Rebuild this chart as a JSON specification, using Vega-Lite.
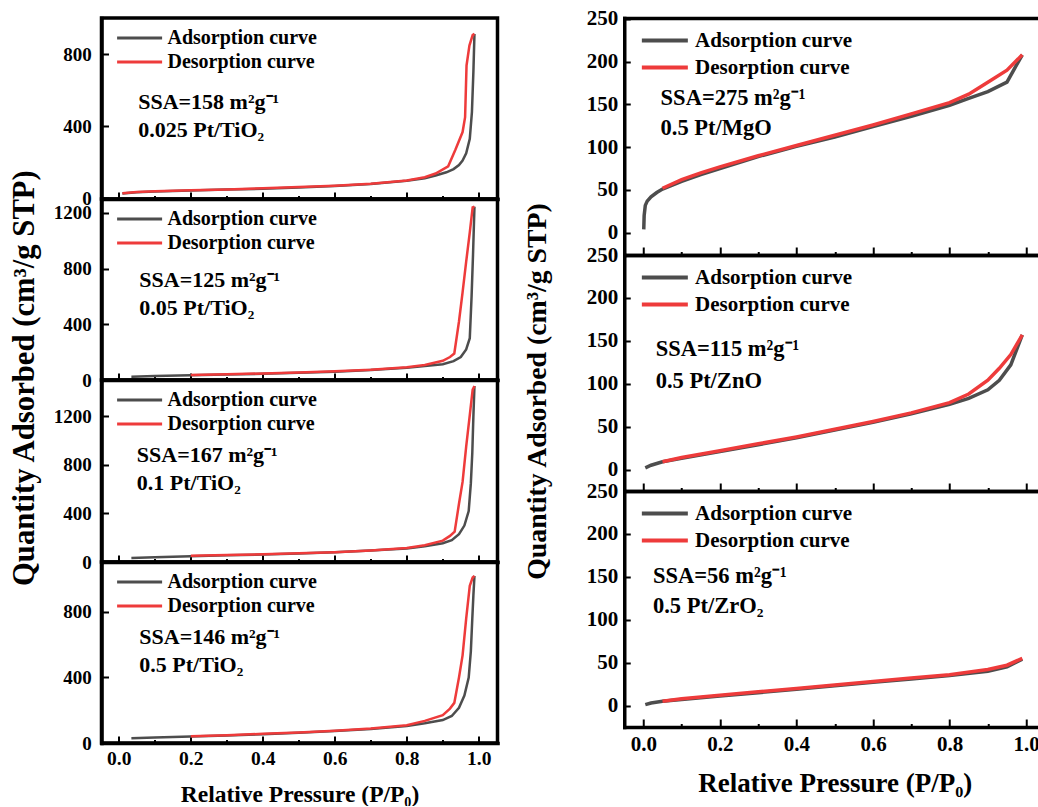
{
  "$schema": "https://vega.github.io/schema/vega-lite/v6.json",
  "background": "white",
  "padding": {"left": 6.5, "top": 5, "right": -8, "bottom": -2},
  "config": {
    "font": "Liberation Serif",
    "view": {"stroke": null},
    "axis": {
      "labelFont": "Liberation Serif", "titleFont": "Liberation Serif",
      "labelFontWeight": "bold", "titleFontWeight": "bold",
      "labelColor": "black", "titleColor": "black",
      "domainColor": "black", "tickColor": "black",
      "domainWidth": 3.5, "domainCap": "square", "tickWidth": 2,
      "grid": false, "labelFlush": false, "labelOverlap": false
    },
    "legend": {
      "labelFont": "Liberation Serif", "labelFontWeight": "bold", "labelColor": "black",
      "labelLimit": 400, "padding": 0, "symbolType": "stroke"
    }
  },
  "datasets": {
    "iso": [
      {"sample":"0.025 Pt/TiO2","curve":"Adsorption curve","p":0.01,"q":28},
      {"sample":"0.025 Pt/TiO2","curve":"Adsorption curve","p":0.05,"q":35},
      {"sample":"0.025 Pt/TiO2","curve":"Adsorption curve","p":0.1,"q":39},
      {"sample":"0.025 Pt/TiO2","curve":"Adsorption curve","p":0.2,"q":44},
      {"sample":"0.025 Pt/TiO2","curve":"Adsorption curve","p":0.3,"q":49},
      {"sample":"0.025 Pt/TiO2","curve":"Adsorption curve","p":0.4,"q":54},
      {"sample":"0.025 Pt/TiO2","curve":"Adsorption curve","p":0.5,"q":61},
      {"sample":"0.025 Pt/TiO2","curve":"Adsorption curve","p":0.6,"q":69},
      {"sample":"0.025 Pt/TiO2","curve":"Adsorption curve","p":0.7,"q":80},
      {"sample":"0.025 Pt/TiO2","curve":"Adsorption curve","p":0.8,"q":98},
      {"sample":"0.025 Pt/TiO2","curve":"Adsorption curve","p":0.85,"q":112},
      {"sample":"0.025 Pt/TiO2","curve":"Adsorption curve","p":0.88,"q":127},
      {"sample":"0.025 Pt/TiO2","curve":"Adsorption curve","p":0.91,"q":145},
      {"sample":"0.025 Pt/TiO2","curve":"Adsorption curve","p":0.93,"q":163},
      {"sample":"0.025 Pt/TiO2","curve":"Adsorption curve","p":0.945,"q":185},
      {"sample":"0.025 Pt/TiO2","curve":"Adsorption curve","p":0.955,"q":210},
      {"sample":"0.025 Pt/TiO2","curve":"Adsorption curve","p":0.965,"q":250},
      {"sample":"0.025 Pt/TiO2","curve":"Adsorption curve","p":0.975,"q":330},
      {"sample":"0.025 Pt/TiO2","curve":"Adsorption curve","p":0.981,"q":480},
      {"sample":"0.025 Pt/TiO2","curve":"Adsorption curve","p":0.985,"q":700},
      {"sample":"0.025 Pt/TiO2","curve":"Adsorption curve","p":0.988,"q":912},
      {"sample":"0.05 Pt/TiO2","curve":"Adsorption curve","p":0.035,"q":24},
      {"sample":"0.05 Pt/TiO2","curve":"Adsorption curve","p":0.1,"q":28},
      {"sample":"0.05 Pt/TiO2","curve":"Adsorption curve","p":0.2,"q":34},
      {"sample":"0.05 Pt/TiO2","curve":"Adsorption curve","p":0.3,"q":39},
      {"sample":"0.05 Pt/TiO2","curve":"Adsorption curve","p":0.4,"q":45},
      {"sample":"0.05 Pt/TiO2","curve":"Adsorption curve","p":0.5,"q":52},
      {"sample":"0.05 Pt/TiO2","curve":"Adsorption curve","p":0.6,"q":60},
      {"sample":"0.05 Pt/TiO2","curve":"Adsorption curve","p":0.7,"q":72},
      {"sample":"0.05 Pt/TiO2","curve":"Adsorption curve","p":0.8,"q":88},
      {"sample":"0.05 Pt/TiO2","curve":"Adsorption curve","p":0.85,"q":100},
      {"sample":"0.05 Pt/TiO2","curve":"Adsorption curve","p":0.9,"q":113},
      {"sample":"0.05 Pt/TiO2","curve":"Adsorption curve","p":0.93,"q":135},
      {"sample":"0.05 Pt/TiO2","curve":"Adsorption curve","p":0.95,"q":165},
      {"sample":"0.05 Pt/TiO2","curve":"Adsorption curve","p":0.965,"q":220},
      {"sample":"0.05 Pt/TiO2","curve":"Adsorption curve","p":0.975,"q":300},
      {"sample":"0.05 Pt/TiO2","curve":"Adsorption curve","p":0.98,"q":600},
      {"sample":"0.05 Pt/TiO2","curve":"Adsorption curve","p":0.984,"q":900},
      {"sample":"0.05 Pt/TiO2","curve":"Adsorption curve","p":0.988,"q":1245},
      {"sample":"0.1 Pt/TiO2","curve":"Adsorption curve","p":0.035,"q":33},
      {"sample":"0.1 Pt/TiO2","curve":"Adsorption curve","p":0.1,"q":40},
      {"sample":"0.1 Pt/TiO2","curve":"Adsorption curve","p":0.2,"q":48},
      {"sample":"0.1 Pt/TiO2","curve":"Adsorption curve","p":0.3,"q":55},
      {"sample":"0.1 Pt/TiO2","curve":"Adsorption curve","p":0.4,"q":62},
      {"sample":"0.1 Pt/TiO2","curve":"Adsorption curve","p":0.5,"q":70},
      {"sample":"0.1 Pt/TiO2","curve":"Adsorption curve","p":0.6,"q":80},
      {"sample":"0.1 Pt/TiO2","curve":"Adsorption curve","p":0.7,"q":94},
      {"sample":"0.1 Pt/TiO2","curve":"Adsorption curve","p":0.8,"q":112},
      {"sample":"0.1 Pt/TiO2","curve":"Adsorption curve","p":0.85,"q":130},
      {"sample":"0.1 Pt/TiO2","curve":"Adsorption curve","p":0.9,"q":155},
      {"sample":"0.1 Pt/TiO2","curve":"Adsorption curve","p":0.925,"q":180},
      {"sample":"0.1 Pt/TiO2","curve":"Adsorption curve","p":0.945,"q":230},
      {"sample":"0.1 Pt/TiO2","curve":"Adsorption curve","p":0.96,"q":300},
      {"sample":"0.1 Pt/TiO2","curve":"Adsorption curve","p":0.972,"q":420},
      {"sample":"0.1 Pt/TiO2","curve":"Adsorption curve","p":0.978,"q":650},
      {"sample":"0.1 Pt/TiO2","curve":"Adsorption curve","p":0.982,"q":900},
      {"sample":"0.1 Pt/TiO2","curve":"Adsorption curve","p":0.985,"q":1200},
      {"sample":"0.1 Pt/TiO2","curve":"Adsorption curve","p":0.988,"q":1450},
      {"sample":"0.5 Pt/TiO2","curve":"Adsorption curve","p":0.035,"q":29},
      {"sample":"0.5 Pt/TiO2","curve":"Adsorption curve","p":0.1,"q":33},
      {"sample":"0.5 Pt/TiO2","curve":"Adsorption curve","p":0.2,"q":40},
      {"sample":"0.5 Pt/TiO2","curve":"Adsorption curve","p":0.3,"q":46},
      {"sample":"0.5 Pt/TiO2","curve":"Adsorption curve","p":0.4,"q":53},
      {"sample":"0.5 Pt/TiO2","curve":"Adsorption curve","p":0.5,"q":62},
      {"sample":"0.5 Pt/TiO2","curve":"Adsorption curve","p":0.6,"q":73},
      {"sample":"0.5 Pt/TiO2","curve":"Adsorption curve","p":0.7,"q":86},
      {"sample":"0.5 Pt/TiO2","curve":"Adsorption curve","p":0.8,"q":104},
      {"sample":"0.5 Pt/TiO2","curve":"Adsorption curve","p":0.85,"q":120},
      {"sample":"0.5 Pt/TiO2","curve":"Adsorption curve","p":0.9,"q":140},
      {"sample":"0.5 Pt/TiO2","curve":"Adsorption curve","p":0.925,"q":165},
      {"sample":"0.5 Pt/TiO2","curve":"Adsorption curve","p":0.945,"q":215},
      {"sample":"0.5 Pt/TiO2","curve":"Adsorption curve","p":0.96,"q":290},
      {"sample":"0.5 Pt/TiO2","curve":"Adsorption curve","p":0.972,"q":400},
      {"sample":"0.5 Pt/TiO2","curve":"Adsorption curve","p":0.978,"q":560},
      {"sample":"0.5 Pt/TiO2","curve":"Adsorption curve","p":0.982,"q":760},
      {"sample":"0.5 Pt/TiO2","curve":"Adsorption curve","p":0.985,"q":900},
      {"sample":"0.5 Pt/TiO2","curve":"Adsorption curve","p":0.988,"q":1020},
      {"sample":"0.5 Pt/MgO","curve":"Adsorption curve","p":0.001,"q":4},
      {"sample":"0.5 Pt/MgO","curve":"Adsorption curve","p":0.002,"q":20},
      {"sample":"0.5 Pt/MgO","curve":"Adsorption curve","p":0.005,"q":32},
      {"sample":"0.5 Pt/MgO","curve":"Adsorption curve","p":0.01,"q":37},
      {"sample":"0.5 Pt/MgO","curve":"Adsorption curve","p":0.02,"q":42},
      {"sample":"0.5 Pt/MgO","curve":"Adsorption curve","p":0.035,"q":47},
      {"sample":"0.5 Pt/MgO","curve":"Adsorption curve","p":0.05,"q":51},
      {"sample":"0.5 Pt/MgO","curve":"Adsorption curve","p":0.1,"q":60},
      {"sample":"0.5 Pt/MgO","curve":"Adsorption curve","p":0.15,"q":68},
      {"sample":"0.5 Pt/MgO","curve":"Adsorption curve","p":0.2,"q":75},
      {"sample":"0.5 Pt/MgO","curve":"Adsorption curve","p":0.3,"q":89},
      {"sample":"0.5 Pt/MgO","curve":"Adsorption curve","p":0.4,"q":101},
      {"sample":"0.5 Pt/MgO","curve":"Adsorption curve","p":0.5,"q":112},
      {"sample":"0.5 Pt/MgO","curve":"Adsorption curve","p":0.6,"q":124},
      {"sample":"0.5 Pt/MgO","curve":"Adsorption curve","p":0.7,"q":136},
      {"sample":"0.5 Pt/MgO","curve":"Adsorption curve","p":0.8,"q":149},
      {"sample":"0.5 Pt/MgO","curve":"Adsorption curve","p":0.85,"q":157},
      {"sample":"0.5 Pt/MgO","curve":"Adsorption curve","p":0.9,"q":165},
      {"sample":"0.5 Pt/MgO","curve":"Adsorption curve","p":0.95,"q":176},
      {"sample":"0.5 Pt/MgO","curve":"Adsorption curve","p":0.99,"q":208},
      {"sample":"0.5 Pt/ZnO","curve":"Adsorption curve","p":0.005,"q":2},
      {"sample":"0.5 Pt/ZnO","curve":"Adsorption curve","p":0.02,"q":5},
      {"sample":"0.5 Pt/ZnO","curve":"Adsorption curve","p":0.05,"q":9},
      {"sample":"0.5 Pt/ZnO","curve":"Adsorption curve","p":0.1,"q":13},
      {"sample":"0.5 Pt/ZnO","curve":"Adsorption curve","p":0.2,"q":21},
      {"sample":"0.5 Pt/ZnO","curve":"Adsorption curve","p":0.3,"q":29},
      {"sample":"0.5 Pt/ZnO","curve":"Adsorption curve","p":0.4,"q":37},
      {"sample":"0.5 Pt/ZnO","curve":"Adsorption curve","p":0.5,"q":46},
      {"sample":"0.5 Pt/ZnO","curve":"Adsorption curve","p":0.6,"q":55},
      {"sample":"0.5 Pt/ZnO","curve":"Adsorption curve","p":0.7,"q":65},
      {"sample":"0.5 Pt/ZnO","curve":"Adsorption curve","p":0.8,"q":76},
      {"sample":"0.5 Pt/ZnO","curve":"Adsorption curve","p":0.85,"q":83},
      {"sample":"0.5 Pt/ZnO","curve":"Adsorption curve","p":0.9,"q":93},
      {"sample":"0.5 Pt/ZnO","curve":"Adsorption curve","p":0.93,"q":104},
      {"sample":"0.5 Pt/ZnO","curve":"Adsorption curve","p":0.96,"q":122},
      {"sample":"0.5 Pt/ZnO","curve":"Adsorption curve","p":0.99,"q":157},
      {"sample":"0.5 Pt/ZrO2","curve":"Adsorption curve","p":0.005,"q":1},
      {"sample":"0.5 Pt/ZrO2","curve":"Adsorption curve","p":0.02,"q":3},
      {"sample":"0.5 Pt/ZrO2","curve":"Adsorption curve","p":0.05,"q":5},
      {"sample":"0.5 Pt/ZrO2","curve":"Adsorption curve","p":0.1,"q":7},
      {"sample":"0.5 Pt/ZrO2","curve":"Adsorption curve","p":0.2,"q":11},
      {"sample":"0.5 Pt/ZrO2","curve":"Adsorption curve","p":0.3,"q":15},
      {"sample":"0.5 Pt/ZrO2","curve":"Adsorption curve","p":0.4,"q":19},
      {"sample":"0.5 Pt/ZrO2","curve":"Adsorption curve","p":0.5,"q":23},
      {"sample":"0.5 Pt/ZrO2","curve":"Adsorption curve","p":0.6,"q":27},
      {"sample":"0.5 Pt/ZrO2","curve":"Adsorption curve","p":0.7,"q":31},
      {"sample":"0.5 Pt/ZrO2","curve":"Adsorption curve","p":0.8,"q":35},
      {"sample":"0.5 Pt/ZrO2","curve":"Adsorption curve","p":0.9,"q":40},
      {"sample":"0.5 Pt/ZrO2","curve":"Adsorption curve","p":0.95,"q":45},
      {"sample":"0.5 Pt/ZrO2","curve":"Adsorption curve","p":0.99,"q":54},
      {"sample":"0.025 Pt/TiO2","curve":"Desorption curve","p":0.01,"q":29},
      {"sample":"0.025 Pt/TiO2","curve":"Desorption curve","p":0.05,"q":36},
      {"sample":"0.025 Pt/TiO2","curve":"Desorption curve","p":0.1,"q":40},
      {"sample":"0.025 Pt/TiO2","curve":"Desorption curve","p":0.2,"q":45},
      {"sample":"0.025 Pt/TiO2","curve":"Desorption curve","p":0.3,"q":50},
      {"sample":"0.025 Pt/TiO2","curve":"Desorption curve","p":0.4,"q":56},
      {"sample":"0.025 Pt/TiO2","curve":"Desorption curve","p":0.5,"q":63},
      {"sample":"0.025 Pt/TiO2","curve":"Desorption curve","p":0.6,"q":71},
      {"sample":"0.025 Pt/TiO2","curve":"Desorption curve","p":0.7,"q":82},
      {"sample":"0.025 Pt/TiO2","curve":"Desorption curve","p":0.8,"q":100},
      {"sample":"0.025 Pt/TiO2","curve":"Desorption curve","p":0.85,"q":118},
      {"sample":"0.025 Pt/TiO2","curve":"Desorption curve","p":0.88,"q":138},
      {"sample":"0.025 Pt/TiO2","curve":"Desorption curve","p":0.915,"q":178},
      {"sample":"0.025 Pt/TiO2","curve":"Desorption curve","p":0.935,"q":270},
      {"sample":"0.025 Pt/TiO2","curve":"Desorption curve","p":0.955,"q":368},
      {"sample":"0.025 Pt/TiO2","curve":"Desorption curve","p":0.962,"q":450},
      {"sample":"0.025 Pt/TiO2","curve":"Desorption curve","p":0.966,"q":737},
      {"sample":"0.025 Pt/TiO2","curve":"Desorption curve","p":0.974,"q":847},
      {"sample":"0.025 Pt/TiO2","curve":"Desorption curve","p":0.983,"q":905},
      {"sample":"0.025 Pt/TiO2","curve":"Desorption curve","p":0.988,"q":912},
      {"sample":"0.05 Pt/TiO2","curve":"Desorption curve","p":0.2,"q":36},
      {"sample":"0.05 Pt/TiO2","curve":"Desorption curve","p":0.3,"q":41},
      {"sample":"0.05 Pt/TiO2","curve":"Desorption curve","p":0.4,"q":47},
      {"sample":"0.05 Pt/TiO2","curve":"Desorption curve","p":0.5,"q":54},
      {"sample":"0.05 Pt/TiO2","curve":"Desorption curve","p":0.6,"q":62},
      {"sample":"0.05 Pt/TiO2","curve":"Desorption curve","p":0.7,"q":74},
      {"sample":"0.05 Pt/TiO2","curve":"Desorption curve","p":0.8,"q":92},
      {"sample":"0.05 Pt/TiO2","curve":"Desorption curve","p":0.85,"q":108},
      {"sample":"0.05 Pt/TiO2","curve":"Desorption curve","p":0.9,"q":138},
      {"sample":"0.05 Pt/TiO2","curve":"Desorption curve","p":0.92,"q":165},
      {"sample":"0.05 Pt/TiO2","curve":"Desorption curve","p":0.932,"q":190},
      {"sample":"0.05 Pt/TiO2","curve":"Desorption curve","p":0.945,"q":420},
      {"sample":"0.05 Pt/TiO2","curve":"Desorption curve","p":0.955,"q":630},
      {"sample":"0.05 Pt/TiO2","curve":"Desorption curve","p":0.965,"q":850},
      {"sample":"0.05 Pt/TiO2","curve":"Desorption curve","p":0.975,"q":1060},
      {"sample":"0.05 Pt/TiO2","curve":"Desorption curve","p":0.983,"q":1240},
      {"sample":"0.05 Pt/TiO2","curve":"Desorption curve","p":0.988,"q":1245},
      {"sample":"0.1 Pt/TiO2","curve":"Desorption curve","p":0.2,"q":51},
      {"sample":"0.1 Pt/TiO2","curve":"Desorption curve","p":0.3,"q":57},
      {"sample":"0.1 Pt/TiO2","curve":"Desorption curve","p":0.4,"q":64},
      {"sample":"0.1 Pt/TiO2","curve":"Desorption curve","p":0.5,"q":72},
      {"sample":"0.1 Pt/TiO2","curve":"Desorption curve","p":0.6,"q":81},
      {"sample":"0.1 Pt/TiO2","curve":"Desorption curve","p":0.7,"q":95},
      {"sample":"0.1 Pt/TiO2","curve":"Desorption curve","p":0.8,"q":115},
      {"sample":"0.1 Pt/TiO2","curve":"Desorption curve","p":0.85,"q":138},
      {"sample":"0.1 Pt/TiO2","curve":"Desorption curve","p":0.9,"q":176},
      {"sample":"0.1 Pt/TiO2","curve":"Desorption curve","p":0.92,"q":215},
      {"sample":"0.1 Pt/TiO2","curve":"Desorption curve","p":0.933,"q":250},
      {"sample":"0.1 Pt/TiO2","curve":"Desorption curve","p":0.945,"q":480},
      {"sample":"0.1 Pt/TiO2","curve":"Desorption curve","p":0.955,"q":660},
      {"sample":"0.1 Pt/TiO2","curve":"Desorption curve","p":0.965,"q":950},
      {"sample":"0.1 Pt/TiO2","curve":"Desorption curve","p":0.975,"q":1210},
      {"sample":"0.1 Pt/TiO2","curve":"Desorption curve","p":0.983,"q":1420},
      {"sample":"0.1 Pt/TiO2","curve":"Desorption curve","p":0.988,"q":1450},
      {"sample":"0.5 Pt/TiO2","curve":"Desorption curve","p":0.2,"q":41},
      {"sample":"0.5 Pt/TiO2","curve":"Desorption curve","p":0.3,"q":48},
      {"sample":"0.5 Pt/TiO2","curve":"Desorption curve","p":0.4,"q":56},
      {"sample":"0.5 Pt/TiO2","curve":"Desorption curve","p":0.5,"q":64},
      {"sample":"0.5 Pt/TiO2","curve":"Desorption curve","p":0.6,"q":75},
      {"sample":"0.5 Pt/TiO2","curve":"Desorption curve","p":0.7,"q":88},
      {"sample":"0.5 Pt/TiO2","curve":"Desorption curve","p":0.8,"q":108},
      {"sample":"0.5 Pt/TiO2","curve":"Desorption curve","p":0.85,"q":135},
      {"sample":"0.5 Pt/TiO2","curve":"Desorption curve","p":0.9,"q":170},
      {"sample":"0.5 Pt/TiO2","curve":"Desorption curve","p":0.92,"q":210},
      {"sample":"0.5 Pt/TiO2","curve":"Desorption curve","p":0.932,"q":245},
      {"sample":"0.5 Pt/TiO2","curve":"Desorption curve","p":0.945,"q":400},
      {"sample":"0.5 Pt/TiO2","curve":"Desorption curve","p":0.955,"q":535},
      {"sample":"0.5 Pt/TiO2","curve":"Desorption curve","p":0.965,"q":760},
      {"sample":"0.5 Pt/TiO2","curve":"Desorption curve","p":0.975,"q":960},
      {"sample":"0.5 Pt/TiO2","curve":"Desorption curve","p":0.983,"q":1010},
      {"sample":"0.5 Pt/TiO2","curve":"Desorption curve","p":0.988,"q":1020},
      {"sample":"0.5 Pt/MgO","curve":"Desorption curve","p":0.05,"q":52},
      {"sample":"0.5 Pt/MgO","curve":"Desorption curve","p":0.1,"q":62},
      {"sample":"0.5 Pt/MgO","curve":"Desorption curve","p":0.15,"q":70},
      {"sample":"0.5 Pt/MgO","curve":"Desorption curve","p":0.2,"q":77},
      {"sample":"0.5 Pt/MgO","curve":"Desorption curve","p":0.3,"q":90},
      {"sample":"0.5 Pt/MgO","curve":"Desorption curve","p":0.4,"q":102},
      {"sample":"0.5 Pt/MgO","curve":"Desorption curve","p":0.5,"q":114},
      {"sample":"0.5 Pt/MgO","curve":"Desorption curve","p":0.6,"q":126},
      {"sample":"0.5 Pt/MgO","curve":"Desorption curve","p":0.7,"q":139},
      {"sample":"0.5 Pt/MgO","curve":"Desorption curve","p":0.8,"q":152},
      {"sample":"0.5 Pt/MgO","curve":"Desorption curve","p":0.85,"q":162},
      {"sample":"0.5 Pt/MgO","curve":"Desorption curve","p":0.9,"q":176},
      {"sample":"0.5 Pt/MgO","curve":"Desorption curve","p":0.95,"q":190},
      {"sample":"0.5 Pt/MgO","curve":"Desorption curve","p":0.99,"q":208},
      {"sample":"0.5 Pt/ZnO","curve":"Desorption curve","p":0.05,"q":9},
      {"sample":"0.5 Pt/ZnO","curve":"Desorption curve","p":0.1,"q":14},
      {"sample":"0.5 Pt/ZnO","curve":"Desorption curve","p":0.2,"q":22},
      {"sample":"0.5 Pt/ZnO","curve":"Desorption curve","p":0.3,"q":30},
      {"sample":"0.5 Pt/ZnO","curve":"Desorption curve","p":0.4,"q":38},
      {"sample":"0.5 Pt/ZnO","curve":"Desorption curve","p":0.5,"q":47},
      {"sample":"0.5 Pt/ZnO","curve":"Desorption curve","p":0.6,"q":56},
      {"sample":"0.5 Pt/ZnO","curve":"Desorption curve","p":0.7,"q":66},
      {"sample":"0.5 Pt/ZnO","curve":"Desorption curve","p":0.8,"q":78},
      {"sample":"0.5 Pt/ZnO","curve":"Desorption curve","p":0.85,"q":88},
      {"sample":"0.5 Pt/ZnO","curve":"Desorption curve","p":0.9,"q":104},
      {"sample":"0.5 Pt/ZnO","curve":"Desorption curve","p":0.93,"q":118},
      {"sample":"0.5 Pt/ZnO","curve":"Desorption curve","p":0.96,"q":134},
      {"sample":"0.5 Pt/ZnO","curve":"Desorption curve","p":0.99,"q":157},
      {"sample":"0.5 Pt/ZrO2","curve":"Desorption curve","p":0.05,"q":5},
      {"sample":"0.5 Pt/ZrO2","curve":"Desorption curve","p":0.1,"q":8},
      {"sample":"0.5 Pt/ZrO2","curve":"Desorption curve","p":0.2,"q":12},
      {"sample":"0.5 Pt/ZrO2","curve":"Desorption curve","p":0.3,"q":16},
      {"sample":"0.5 Pt/ZrO2","curve":"Desorption curve","p":0.4,"q":20},
      {"sample":"0.5 Pt/ZrO2","curve":"Desorption curve","p":0.5,"q":24},
      {"sample":"0.5 Pt/ZrO2","curve":"Desorption curve","p":0.6,"q":28},
      {"sample":"0.5 Pt/ZrO2","curve":"Desorption curve","p":0.7,"q":32},
      {"sample":"0.5 Pt/ZrO2","curve":"Desorption curve","p":0.8,"q":36},
      {"sample":"0.5 Pt/ZrO2","curve":"Desorption curve","p":0.9,"q":42},
      {"sample":"0.5 Pt/ZrO2","curve":"Desorption curve","p":0.95,"q":47},
      {"sample":"0.5 Pt/ZrO2","curve":"Desorption curve","p":0.99,"q":55}
    ],
    "notes": [
      {"sample":"0.025 Pt/TiO2","ssa":"SSA=158 m²g⁻¹","name":"0.025 Pt/TiO₂"},
      {"sample":"0.05 Pt/TiO2","ssa":"SSA=125 m²g⁻¹","name":"0.05 Pt/TiO₂"},
      {"sample":"0.1 Pt/TiO2","ssa":"SSA=167 m²g⁻¹","name":"0.1 Pt/TiO₂"},
      {"sample":"0.5 Pt/TiO2","ssa":"SSA=146 m²g⁻¹","name":"0.5 Pt/TiO₂"},
      {"sample":"0.5 Pt/MgO","ssa":"SSA=275 m²g⁻¹","name":"0.5 Pt/MgO"},
      {"sample":"0.5 Pt/ZnO","ssa":"SSA=115 m²g⁻¹","name":"0.5 Pt/ZnO"},
      {"sample":"0.5 Pt/ZrO2","ssa":"SSA=56 m²g⁻¹","name":"0.5 Pt/ZrO₂"}
    ]
  },
  "resolve": {"legend": {"color": "independent"}},
  "spacing": 23.75,
  "hconcat": [
    {
      "spacing": 0,
      "bounds": "flush",
      "resolve": {"legend": {"color": "independent"}},
      "vconcat": [
        {
          "width": 396, "height": 181,
          "view": {"stroke": "black", "strokeWidth": 3.5},
          "resolve": {"axis": {"x": "independent", "y": "independent"}},
          "layer": [
            {
              "data": {"name": "iso"},
              "transform": [{"filter": "datum.sample === '0.025 Pt/TiO2'"}],
              "mark": {"type": "line", "strokeWidth": 2.5},
              "encoding": {
                "x": {"field": "p", "type": "quantitative", "scale": {"domain": [-0.048, 1.052], "nice": false, "zero": false},
                  "axis": {"orient": "bottom", "values": [0, 0.2, 0.4, 0.6, 0.8, 1], "tickSize": -7, "labels": false, "title": null}},
                "y": {"field": "q", "type": "quantitative", "scale": {"domain": [-3, 1000], "nice": false, "zero": false},
                  "axis": {"orient": "left", "values": [0, 400, 800, 1000], "format": "d", "tickSize": -7, "labelPadding": 17.3, "title": null,
                    "labelFontSize": {"condition": {"test": "datum.value > 900", "value": 23}, "value": 19},
                    "labelOpacity": {"condition": {"test": "datum.value > 900", "value": 0}, "value": 1},
                    "tickOpacity": {"condition": {"test": "datum.value > 900", "value": 0}, "value": 1}}},
                "color": {"field": "curve", "type": "nominal",
                  "scale": {"domain": ["Adsorption curve", "Desorption curve"], "range": ["#4d4d4d", "#ee3b3b"]},
                  "legend": {"orient": "top-left", "title": null, "offset": 7.6, "clipHeight": 24, "rowPadding": 0, "symbolSize": 2025, "symbolStrokeWidth": 3, "symbolOffset": 6.1, "labelOffset": 3.9, "labelFontSize": 20}}
              }
            },
            {
              "data": {"name": "notes"},
              "transform": [{"filter": "datum.sample === '0.025 Pt/TiO2'"}],
              "mark": {"type": "text", "align": "left", "baseline": "middle", "fontSize": 22, "font": "Liberation Serif", "fontWeight": "bold", "color": "black"},
              "encoding": {
                "x": {"datum": 0.054, "type": "quantitative", "axis": {"orient": "bottom", "values": [0.1, 0.3, 0.5, 0.7, 0.9], "tickSize": -3.5, "labels": false, "domain": false, "title": null}},
                "y": {"datum": 534, "type": "quantitative", "axis": null},
                "text": {"field": "ssa"}
              }
            },
            {
              "data": {"name": "notes"},
              "transform": [{"filter": "datum.sample === '0.025 Pt/TiO2'"}],
              "mark": {"type": "text", "align": "left", "baseline": "middle", "fontSize": 22, "font": "Liberation Serif", "fontWeight": "bold", "color": "black"},
              "encoding": {
                "x": {"datum": 0.054, "type": "quantitative", "axis": null},
                "y": {"datum": 377, "type": "quantitative", "axis": null},
                "text": {"field": "name"}
              }
            }
          ]
        },
        {
          "width": 396, "height": 181,
          "view": {"stroke": "black", "strokeWidth": 3.5},
          "resolve": {"axis": {"x": "independent", "y": "independent"}},
          "layer": [
            {
              "data": {"name": "iso"},
              "transform": [{"filter": "datum.sample === '0.05 Pt/TiO2'"}],
              "mark": {"type": "line", "strokeWidth": 2.5},
              "encoding": {
                "x": {"field": "p", "type": "quantitative", "scale": {"domain": [-0.048, 1.052], "nice": false, "zero": false},
                  "axis": {"orient": "bottom", "values": [0, 0.2, 0.4, 0.6, 0.8, 1], "tickSize": -7, "labels": false, "title": null}},
                "y": {"field": "q", "type": "quantitative", "scale": {"domain": [0, 1300], "nice": false, "zero": false},
                  "axis": {"orient": "left", "values": [0, 400, 800, 1200], "format": "d", "tickSize": -7, "labelPadding": 17.3, "labelFontSize": 19,
                    "title": "Quantity Adsorbed (cm³/g STP)", "titleFontSize": 30.7, "titleX": -77, "titleY": 178.6, "titleBaseline": "middle", "titleAlign": "center", "titleAngle": 270}},
                "color": {"field": "curve", "type": "nominal",
                  "scale": {"domain": ["Adsorption curve", "Desorption curve"], "range": ["#4d4d4d", "#ee3b3b"]},
                  "legend": {"orient": "top-left", "title": null, "offset": 7.6, "clipHeight": 24, "rowPadding": 0, "symbolSize": 2025, "symbolStrokeWidth": 3, "symbolOffset": 6.1, "labelOffset": 3.9, "labelFontSize": 20}}
              }
            },
            {
              "data": {"name": "notes"},
              "transform": [{"filter": "datum.sample === '0.05 Pt/TiO2'"}],
              "mark": {"type": "text", "align": "left", "baseline": "middle", "fontSize": 22, "font": "Liberation Serif", "fontWeight": "bold", "color": "black"},
              "encoding": {
                "x": {"datum": 0.057, "type": "quantitative", "axis": {"orient": "bottom", "values": [0.1, 0.3, 0.5, 0.7, 0.9], "tickSize": -3.5, "labels": false, "domain": false, "title": null}},
                "y": {"datum": 717, "type": "quantitative", "axis": null},
                "text": {"field": "ssa"}
              }
            },
            {
              "data": {"name": "notes"},
              "transform": [{"filter": "datum.sample === '0.05 Pt/TiO2'"}],
              "mark": {"type": "text", "align": "left", "baseline": "middle", "fontSize": 22, "font": "Liberation Serif", "fontWeight": "bold", "color": "black"},
              "encoding": {
                "x": {"datum": 0.057, "type": "quantitative", "axis": null},
                "y": {"datum": 516, "type": "quantitative", "axis": null},
                "text": {"field": "name"}
              }
            }
          ]
        },
        {
          "width": 396, "height": 182,
          "view": {"stroke": "black", "strokeWidth": 3.5},
          "resolve": {"axis": {"x": "independent", "y": "independent"}},
          "layer": [
            {
              "data": {"name": "iso"},
              "transform": [{"filter": "datum.sample === '0.1 Pt/TiO2'"}],
              "mark": {"type": "line", "strokeWidth": 2.5},
              "encoding": {
                "x": {"field": "p", "type": "quantitative", "scale": {"domain": [-0.048, 1.052], "nice": false, "zero": false},
                  "axis": {"orient": "bottom", "values": [0, 0.2, 0.4, 0.6, 0.8, 1], "tickSize": -7, "labels": false, "title": null}},
                "y": {"field": "q", "type": "quantitative", "scale": {"domain": [0, 1500], "nice": false, "zero": false},
                  "axis": {"orient": "left", "values": [0, 400, 800, 1200], "format": "d", "tickSize": -7, "labelPadding": 17.3, "labelFontSize": 19, "title": null}},
                "color": {"field": "curve", "type": "nominal",
                  "scale": {"domain": ["Adsorption curve", "Desorption curve"], "range": ["#4d4d4d", "#ee3b3b"]},
                  "legend": {"orient": "top-left", "title": null, "offset": 7.6, "clipHeight": 24, "rowPadding": 0, "symbolSize": 2025, "symbolStrokeWidth": 3, "symbolOffset": 6.1, "labelOffset": 3.9, "labelFontSize": 20}}
              }
            },
            {
              "data": {"name": "notes"},
              "transform": [{"filter": "datum.sample === '0.1 Pt/TiO2'"}],
              "mark": {"type": "text", "align": "left", "baseline": "middle", "fontSize": 22, "font": "Liberation Serif", "fontWeight": "bold", "color": "black"},
              "encoding": {
                "x": {"datum": 0.05, "type": "quantitative", "axis": {"orient": "bottom", "values": [0.1, 0.3, 0.5, 0.7, 0.9], "tickSize": -3.5, "labels": false, "domain": false, "title": null}},
                "y": {"datum": 881, "type": "quantitative", "axis": null},
                "text": {"field": "ssa"}
              }
            },
            {
              "data": {"name": "notes"},
              "transform": [{"filter": "datum.sample === '0.1 Pt/TiO2'"}],
              "mark": {"type": "text", "align": "left", "baseline": "middle", "fontSize": 22, "font": "Liberation Serif", "fontWeight": "bold", "color": "black"},
              "encoding": {
                "x": {"datum": 0.05, "type": "quantitative", "axis": null},
                "y": {"datum": 651, "type": "quantitative", "axis": null},
                "text": {"field": "name"}
              }
            }
          ]
        },
        {
          "width": 396, "height": 181,
          "view": {"stroke": "black", "strokeWidth": 3.5},
          "resolve": {"axis": {"x": "independent", "y": "independent"}},
          "layer": [
            {
              "data": {"name": "iso"},
              "transform": [{"filter": "datum.sample === '0.5 Pt/TiO2'"}],
              "mark": {"type": "line", "strokeWidth": 2.5},
              "encoding": {
                "x": {"field": "p", "type": "quantitative", "scale": {"domain": [-0.048, 1.052], "nice": false, "zero": false},
                  "axis": {"orient": "bottom", "values": [0, 0.2, 0.4, 0.6, 0.8, 1], "format": ".1f", "tickSize": -7, "labels": true, "labelPadding": 13, "labelFontSize": 19.5,
                    "title": "Relative Pressure (P/P₀)", "titleFontSize": 23.5, "titleY": 51.6, "titleBaseline": "middle"}},
                "y": {"field": "q", "type": "quantitative", "scale": {"domain": [0, 1105], "nice": false, "zero": false},
                  "axis": {"orient": "left", "values": [0, 400, 800], "format": "d", "tickSize": -7, "labelPadding": 17.3, "labelFontSize": 19, "title": null}},
                "color": {"field": "curve", "type": "nominal",
                  "scale": {"domain": ["Adsorption curve", "Desorption curve"], "range": ["#4d4d4d", "#ee3b3b"]},
                  "legend": {"orient": "top-left", "title": null, "offset": 7.6, "clipHeight": 24, "rowPadding": 0, "symbolSize": 2025, "symbolStrokeWidth": 3, "symbolOffset": 6.1, "labelOffset": 3.9, "labelFontSize": 20}}
              }
            },
            {
              "data": {"name": "notes"},
              "transform": [{"filter": "datum.sample === '0.5 Pt/TiO2'"}],
              "mark": {"type": "text", "align": "left", "baseline": "middle", "fontSize": 22, "font": "Liberation Serif", "fontWeight": "bold", "color": "black"},
              "encoding": {
                "x": {"datum": 0.057, "type": "quantitative", "axis": {"orient": "bottom", "values": [0.1, 0.3, 0.5, 0.7, 0.9], "tickSize": -3.5, "labels": false, "domain": false, "title": null}},
                "y": {"datum": 647, "type": "quantitative", "axis": null},
                "text": {"field": "ssa"}
              }
            },
            {
              "data": {"name": "notes"},
              "transform": [{"filter": "datum.sample === '0.5 Pt/TiO2'"}],
              "mark": {"type": "text", "align": "left", "baseline": "middle", "fontSize": 22, "font": "Liberation Serif", "fontWeight": "bold", "color": "black"},
              "encoding": {
                "x": {"datum": 0.057, "type": "quantitative", "axis": null},
                "y": {"datum": 477, "type": "quantitative", "axis": null},
                "text": {"field": "name"}
              }
            }
          ]
        }
      ]
    },
    {
      "spacing": 0,
      "bounds": "flush",
      "resolve": {"legend": {"color": "independent"}},
      "vconcat": [
        {
          "width": 421, "height": 237,
          "resolve": {"axis": {"x": "independent", "y": "independent"}},
          "layer": [
            {
              "data": {"name": "iso"},
              "transform": [{"filter": "datum.sample === '0.5 Pt/MgO'"}],
              "mark": {"type": "line", "strokeWidth": 3.5},
              "encoding": {
                "x": {"field": "p", "type": "quantitative", "scale": {"domain": [-0.05, 1.05], "nice": false, "zero": false},
                  "axis": {"orient": "bottom", "values": [0, 0.2, 0.4, 0.6, 0.8, 1], "tickSize": -8, "labels": false, "title": null}},
                "y": {"field": "q", "type": "quantitative", "scale": {"domain": [-26, 251], "nice": false, "zero": false},
                  "axis": {"orient": "left", "values": [0, 50, 100, 150, 200, 250], "format": "d", "tickSize": -6, "labelPadding": 12.4, "labelFontSize": 21, "title": null}},
                "color": {"field": "curve", "type": "nominal",
                  "scale": {"domain": ["Adsorption curve", "Desorption curve"], "range": ["#4d4d4d", "#ee3b3b"]},
                  "legend": {"orient": "top-left", "title": null, "offset": 8.8, "clipHeight": 27, "rowPadding": 0, "symbolSize": 2116, "symbolStrokeWidth": 4, "symbolOffset": 6.6, "labelOffset": 5.2, "labelFontSize": 21}}
              }
            },
            {
              "data": {"name": "notes"},
              "transform": [{"filter": "datum.sample === '0.5 Pt/MgO'"}],
              "mark": {"type": "text", "align": "left", "baseline": "middle", "fontSize": 22.5, "font": "Liberation Serif", "fontWeight": "bold", "color": "black"},
              "encoding": {
                "x": {"datum": 0.045, "type": "quantitative", "axis": {"orient": "bottom", "values": [0.1, 0.3, 0.5, 0.7, 0.9], "tickSize": -3.5, "labels": false, "domain": false, "title": null}},
                "y": {"datum": 157, "type": "quantitative", "axis": null},
                "text": {"field": "ssa"}
              }
            },
            {
              "data": {"name": "notes"},
              "transform": [{"filter": "datum.sample === '0.5 Pt/MgO'"}],
              "mark": {"type": "text", "align": "left", "baseline": "middle", "fontSize": 22.5, "font": "Liberation Serif", "fontWeight": "bold", "color": "black"},
              "encoding": {
                "x": {"datum": 0.045, "type": "quantitative", "axis": {"orient": "top", "ticks": false, "labels": false, "domain": true, "title": null}},
                "y": {"datum": 123, "type": "quantitative", "axis": null},
                "text": {"field": "name"}
              }
            }
          ]
        },
        {
          "width": 421, "height": 236,
          "resolve": {"axis": {"x": "independent", "y": "independent"}},
          "layer": [
            {
              "data": {"name": "iso"},
              "transform": [{"filter": "datum.sample === '0.5 Pt/ZnO'"}],
              "mark": {"type": "line", "strokeWidth": 3.5},
              "encoding": {
                "x": {"field": "p", "type": "quantitative", "scale": {"domain": [-0.05, 1.05], "nice": false, "zero": false},
                  "axis": {"orient": "bottom", "values": [0, 0.2, 0.4, 0.6, 0.8, 1], "tickSize": -8, "labels": false, "title": null}},
                "y": {"field": "q", "type": "quantitative", "scale": {"domain": [-25, 250], "nice": false, "zero": false},
                  "axis": {"orient": "left", "values": [0, 50, 100, 150, 200, 250], "format": "d", "tickSize": -6, "labelPadding": 12.4, "labelFontSize": 21,
                    "title": "Quantity Adsorbed (cm³/g STP)", "titleFontSize": 27.8, "titleX": -86.7, "titleY": 136, "titleBaseline": "middle", "titleAlign": "center", "titleAngle": 270}},
                "color": {"field": "curve", "type": "nominal",
                  "scale": {"domain": ["Adsorption curve", "Desorption curve"], "range": ["#4d4d4d", "#ee3b3b"]},
                  "legend": {"orient": "top-left", "title": null, "offset": 8.8, "clipHeight": 27, "rowPadding": 0, "symbolSize": 2116, "symbolStrokeWidth": 4, "symbolOffset": 6.6, "labelOffset": 5.2, "labelFontSize": 21}}
              }
            },
            {
              "data": {"name": "notes"},
              "transform": [{"filter": "datum.sample === '0.5 Pt/ZnO'"}],
              "mark": {"type": "text", "align": "left", "baseline": "middle", "fontSize": 22.5, "font": "Liberation Serif", "fontWeight": "bold", "color": "black"},
              "encoding": {
                "x": {"datum": 0.032, "type": "quantitative", "axis": {"orient": "bottom", "values": [0.1, 0.3, 0.5, 0.7, 0.9], "tickSize": -3.5, "labels": false, "domain": false, "title": null}},
                "y": {"datum": 140, "type": "quantitative", "axis": null},
                "text": {"field": "ssa"}
              }
            },
            {
              "data": {"name": "notes"},
              "transform": [{"filter": "datum.sample === '0.5 Pt/ZnO'"}],
              "mark": {"type": "text", "align": "left", "baseline": "middle", "fontSize": 22.5, "font": "Liberation Serif", "fontWeight": "bold", "color": "black"},
              "encoding": {
                "x": {"datum": 0.032, "type": "quantitative", "axis": {"orient": "top", "ticks": false, "labels": false, "domain": true, "title": null}},
                "y": {"datum": 102.6, "type": "quantitative", "axis": null},
                "text": {"field": "name"}
              }
            }
          ]
        },
        {
          "width": 421, "height": 236,
          "resolve": {"axis": {"x": "independent", "y": "independent"}},
          "layer": [
            {
              "data": {"name": "iso"},
              "transform": [{"filter": "datum.sample === '0.5 Pt/ZrO2'"}],
              "mark": {"type": "line", "strokeWidth": 3.5},
              "encoding": {
                "x": {"field": "p", "type": "quantitative", "scale": {"domain": [-0.05, 1.05], "nice": false, "zero": false},
                  "axis": {"orient": "bottom", "values": [0, 0.2, 0.4, 0.6, 0.8, 1], "format": ".1f", "tickSize": -8, "labels": true, "labelPadding": 14, "labelFontSize": 21,
                    "title": "Relative Pressure (P/P₀)", "titleFontSize": 27, "titleY": 56.5, "titleBaseline": "middle"}},
                "y": {"field": "q", "type": "quantitative", "scale": {"domain": [-25, 250], "nice": false, "zero": false},
                  "axis": {"orient": "left", "values": [0, 50, 100, 150, 200, 250], "format": "d", "tickSize": -6, "labelPadding": 12.4, "labelFontSize": 21, "title": null}},
                "color": {"field": "curve", "type": "nominal",
                  "scale": {"domain": ["Adsorption curve", "Desorption curve"], "range": ["#4d4d4d", "#ee3b3b"]},
                  "legend": {"orient": "top-left", "title": null, "offset": 8.8, "clipHeight": 27, "rowPadding": 0, "symbolSize": 2116, "symbolStrokeWidth": 4, "symbolOffset": 6.6, "labelOffset": 5.2, "labelFontSize": 21}}
              }
            },
            {
              "data": {"name": "notes"},
              "transform": [{"filter": "datum.sample === '0.5 Pt/ZrO2'"}],
              "mark": {"type": "text", "align": "left", "baseline": "middle", "fontSize": 22.5, "font": "Liberation Serif", "fontWeight": "bold", "color": "black"},
              "encoding": {
                "x": {"datum": 0.025, "type": "quantitative", "axis": {"orient": "bottom", "values": [0.1, 0.3, 0.5, 0.7, 0.9], "tickSize": -3.5, "labels": false, "domain": false, "title": null}},
                "y": {"datum": 151, "type": "quantitative", "axis": null},
                "text": {"field": "ssa"}
              }
            },
            {
              "data": {"name": "notes"},
              "transform": [{"filter": "datum.sample === '0.5 Pt/ZrO2'"}],
              "mark": {"type": "text", "align": "left", "baseline": "middle", "fontSize": 22.5, "font": "Liberation Serif", "fontWeight": "bold", "color": "black"},
              "encoding": {
                "x": {"datum": 0.025, "type": "quantitative", "axis": {"orient": "top", "ticks": false, "labels": false, "domain": true, "title": null}},
                "y": {"datum": 116, "type": "quantitative", "axis": null},
                "text": {"field": "name"}
              }
            }
          ]
        }
      ]
    }
  ]
}
